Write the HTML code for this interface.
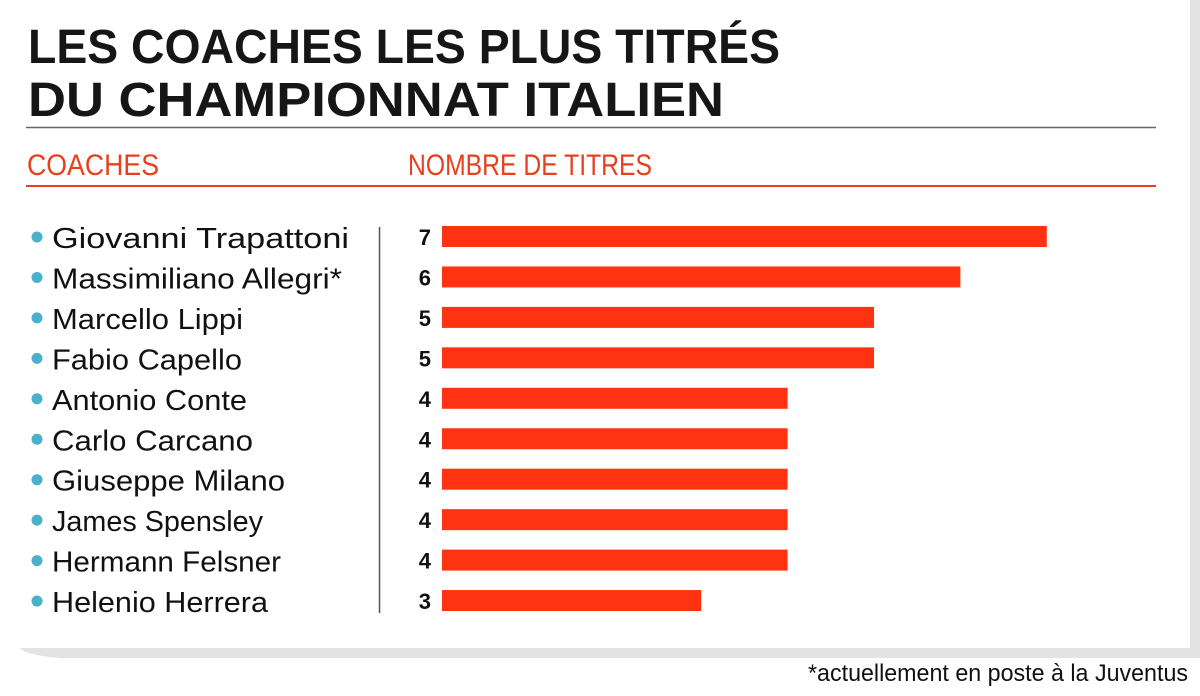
<!DOCTYPE html>
<html><head><meta charset="utf-8"><style>
html,body{margin:0;padding:0;background:#fff;}
svg{display:block;}
text{font-family:"Liberation Sans",sans-serif;}
</style></head><body>
<svg width="1200" height="696" viewBox="0 0 1200 696">
  <path d="M20 648 L1190 648 L1190 0 L1200 0 L1200 658 L60 658 Q25 655 20 648 Z" fill="#e3e3e3"/>
  <text x="28" y="63" font-size="48" font-weight="bold" fill="#161616" textLength="752" lengthAdjust="spacingAndGlyphs">LES COACHES LES PLUS TITRÉS</text>
  <text x="28" y="116" font-size="48" font-weight="bold" fill="#161616" textLength="696" lengthAdjust="spacingAndGlyphs">DU CHAMPIONNAT ITALIEN</text>
  <line x1="26" y1="127.5" x2="1156" y2="127.5" stroke="#666" stroke-width="1.5"/>
  <text x="27" y="175" font-size="30" fill="#e8401c" textLength="132" lengthAdjust="spacingAndGlyphs">COACHES</text>
  <text x="408" y="175" font-size="30" fill="#e8401c" textLength="244" lengthAdjust="spacingAndGlyphs">NOMBRE DE TITRES</text>
  <line x1="26" y1="186" x2="1156" y2="186" stroke="#e8401c" stroke-width="2"/>
  <line x1="379.5" y1="227" x2="379.5" y2="613" stroke="#555" stroke-width="1.5"/>
  <g id="rows"></g>
  <text x="1188" y="681" font-size="24" fill="#111" text-anchor="end" textLength="380" lengthAdjust="spacingAndGlyphs">*actuellement en poste à la Juventus</text>
</svg>
<script>
const coaches = ["Giovanni Trapattoni","Massimiliano Allegri*","Marcello Lippi","Fabio Capello","Antonio Conte","Carlo Carcano","Giuseppe Milano","James Spensley","Hermann Felsner","Helenio Herrera"];
const titles = [7,6,5,5,4,4,4,4,4,3];
const nameWidths = [297,290,191,190,195,201,233,211,229,216];

const NS = "http://www.w3.org/2000/svg";
const g = document.getElementById("rows");
const x0 = 442, unit = 86.4;
function xScale(v){ return x0 + v*unit; }
function yScale(i){ return 237 + i*40.45; }
coaches.forEach((name,i)=>{
  const cy = yScale(i);
  const dot = document.createElementNS(NS,"circle");
  dot.setAttribute("cx",37); dot.setAttribute("cy",cy); dot.setAttribute("r",5.5); dot.setAttribute("fill","#4bb0cc");
  
  
  g.appendChild(dot);
  const t = document.createElementNS(NS,"text");
  t.setAttribute("x",52); t.setAttribute("y",cy+11); t.setAttribute("font-size","29"); t.setAttribute("fill","#111");
  t.setAttribute("textLength",nameWidths[i]); t.setAttribute("lengthAdjust","spacingAndGlyphs");
  t.textContent = name;
  
  
  g.appendChild(t);
  const v = document.createElementNS(NS,"text");
  v.setAttribute("x",431); v.setAttribute("y",cy+8); v.setAttribute("font-size","22"); v.setAttribute("font-weight","bold");
  v.setAttribute("text-anchor","end"); v.setAttribute("fill","#111");
  v.textContent = titles[i];
  
  
  g.appendChild(v);
  const r = document.createElementNS(NS,"rect");
  r.setAttribute("x",x0); r.setAttribute("y",cy-11); r.setAttribute("width",xScale(titles[i])-x0); r.setAttribute("height",21);
  r.setAttribute("fill","#ff3311");
  
  
  g.appendChild(r);
});
</script>
</body></html>
